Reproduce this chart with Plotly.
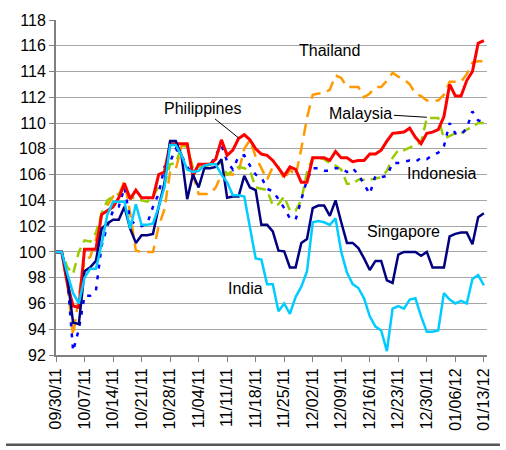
import pandas as pd
import plotly.graph_objs as go

# business days, 09/30/11 .. 01/13/12
dates = [d.strftime('%m/%d/%y') for d in pd.bdate_range('2011-09-30', '2012-01-13')]

philippines = [100, 100, 97.5, 95.8, 95.7, 100.2, 100.2, 100.2, 102.9, 103.2,
               103.5, 104.2, 105.3, 104.1, 104.8, 104.2, 104.2, 104.2, 106.0, 106.2,
               108.4, 108.4, 108.4, 108.4, 105.9, 106.8, 106.8, 106.8, 107.2, 108.7,
               107.5, 107.9, 108.8, 109.1, 108.7, 108.0, 107.6, 107.5, 107.1, 106.5,
               105.9, 106.6, 106.4, 105.4, 105.4, 107.3, 107.3, 107.3, 107.1, 107.8,
               107.3, 107.3, 107.0, 107.1, 107.1, 107.6, 107.6, 107.9, 108.6, 109.2,
               109.25, 109.3, 109.6, 108.9, 108.4, 109.2, 109.3, 109.5, 110.5, 113.0,
               112.1, 112.1, 113.3, 114.0, 116.2, 116.4]
thailand = [100, 100, 97.5, 93.5, 96.5, 99.4, 99.6, 101.0, 102.9, 103.6,
            104.3, 104.4, 105.5, 103.0, 100.1, 100.0, 100.0, 100.0, 102.0, 103.3,
            106.2, 106.4, 108.2, 108.3, 106.0, 104.5, 104.5, 104.5, 105.0, 106.0,
            106.0, 106.0, 106.2, 108.0, 108.7, 107.4, 106.5, 105.6, 106.6, 106.6,
            105.6, 106.4, 105.9, 108.0, 110.4, 112.2, 112.3, 112.3, 112.6, 113.7,
            113.5, 112.8, 112.8, 112.8, 112.0, 112.3, 112.8, 112.8, 113.3, 113.9,
            113.6, 113.4, 113.0, 112.3, 112.1, 111.75, 111.75, 111.75, 112.2, 113.2,
            113.2, 113.2, 113.8, 114.7, 114.8, 114.8]
malaysia = [100, 100, 98.8, 98.3, 100.0, 100.9, 100.8, 101.5, 103.0, 104.0,
            104.3, 104.5, 105.0, 104.3, 104.1, 104.0, 103.9, 104.3, 105.1, 105.2,
            106.8, 106.9, 108.2, 108.2, 106.5, 106.6, 106.6, 106.7, 106.8, 106.9,
            106.0, 106.3, 106.6, 106.5, 106.3, 105.0, 104.9, 104.8, 103.6, 103.7,
            104.3, 103.2, 103.2, 104.0, 106.2, 107.3, 107.3, 107.2, 106.9, 106.7,
            106.4, 105.3, 105.3, 105.6, 105.6, 105.6, 105.7, 105.8, 106.3, 107.3,
            107.9, 107.9, 108.1, 108.3, 108.5, 110.4, 110.4, 110.4, 108.8, 109.0,
            109.2, 109.2, 109.5, 109.7, 110.0, 110.0]
indonesia = [100, 100, 98.0, 92.3, 94.0, 96.6, 96.6, 97.0, 100.5, 102.0,
             103.2, 103.5, 105.0, 102.5, 102.1, 102.0, 102.2, 103.5, 104.5, 106.6,
             107.0, 108.0, 107.5, 106.6, 106.0, 106.5, 106.6, 106.7, 107.5, 108.3,
             107.0, 106.4, 107.4, 107.5, 106.7, 106.0, 105.8, 104.9, 104.7, 104.1,
             103.4, 102.6, 102.5, 104.0, 105.6, 106.5, 106.5, 106.3, 106.3, 106.5,
             106.5, 106.2, 106.5, 106.0, 105.3, 104.5, 105.9, 105.8, 105.9, 106.9,
             106.9, 107.0, 107.1, 107.0, 107.3, 107.2, 107.5, 107.7, 108.2, 110.0,
             109.2, 109.1, 109.6, 110.9, 110.2, 110.1]
singapore = [100, 100, 98.0, 94.5, 94.4, 98.5, 98.8, 99.3, 101.8, 102.2,
             102.5, 102.5, 103.5, 101.8, 100.7, 101.3, 101.3, 101.4, 103.5, 105.3,
             108.6, 108.6, 107.5, 104.1, 106.0, 105.0, 106.5, 106.5, 106.6, 107.2,
             104.2, 104.3, 104.3, 105.9, 105.0, 104.8, 102.1, 102.1, 101.6, 100.1,
             100.05, 98.8, 98.8, 100.7, 101.0, 103.4, 103.6, 103.6, 102.8, 104.0,
             102.3, 100.7, 100.7, 100.3, 99.5, 98.6, 99.3, 99.3, 97.8, 97.6,
             99.8, 100.0, 100.0, 100.0, 99.7, 100.0, 98.8, 98.8, 98.8, 101.2,
             101.4, 101.5, 101.5, 100.6, 102.7, 103.0]
india = [100, 100, 98.3, 96.8, 96.0, 98.0, 98.7, 98.7, 100.6, 102.9,
         103.9, 103.9, 103.9, 101.8, 103.7, 102.1, 102.1, 102.2, 103.5, 105.0,
         108.3, 108.3, 107.5, 106.4, 106.2, 106.3, 106.7, 106.8, 106.8, 106.0,
         105.4, 104.4, 104.4, 104.3, 102.0, 99.5, 99.4, 97.5, 97.5, 95.4,
         96.0, 95.2, 96.5, 97.3, 98.5, 102.3, 102.4, 102.3, 102.1, 102.6,
         100.0, 98.4, 97.5, 97.2, 96.4, 95.0, 94.2, 93.9, 92.3, 95.6,
         95.8, 95.6, 96.3, 96.4, 95.0, 93.8, 93.8, 93.9, 96.8, 96.3,
         96.0, 96.2, 96.0, 97.9, 98.2, 97.4]

fig = go.Figure()

fig.add_trace(go.Scatter(x=dates, y=thailand, mode='lines', name='Thailand',
                         line=dict(color='#FF9900', width=2.5, dash='12px,7px')))
fig.add_trace(go.Scatter(x=dates, y=malaysia, mode='lines', name='Malaysia',
                         line=dict(color='#99CC00', width=2.5, dash='10px,6px')))
fig.add_trace(go.Scatter(x=dates, y=indonesia, mode='lines', name='Indonesia',
                         line=dict(color='#0000FF', width=2.5, dash='4px,7px')))
fig.add_trace(go.Scatter(x=dates, y=philippines, mode='lines', name='Philippines',
                         line=dict(color='#FF0000', width=3)))
fig.add_trace(go.Scatter(x=dates, y=singapore, mode='lines', name='Singapore',
                         line=dict(color='#000080', width=2.5)))
fig.add_trace(go.Scatter(x=dates, y=india, mode='lines', name='India',
                         line=dict(color='#00CCFF', width=2.5)))

# series labels
fig.add_annotation(x=dates[32], y=108.85, text='Philippines', showarrow=True,
                   arrowhead=0, arrowwidth=1, arrowcolor='black', ax=-36, ay=-29)
fig.add_annotation(x=dates[65], y=110.45, text='Malaysia', showarrow=True,
                   arrowhead=0, arrowwidth=1, arrowcolor='black', ax=-66, ay=-4)
for name, i, v in [('Thailand', 47.9, 115.6), ('Indonesia', 67.5, 106.1),
                   ('Singapore', 61.0, 101.6), ('India', 33.3, 97.2)]:
    fig.add_annotation(x=i, y=v, text=name, showarrow=False)

# rule under the chart
fig.add_shape(type='line', xref='paper', yref='paper', x0=-0.116, x1=1.03,
              y0=-0.268, y1=-0.268, line=dict(color='#555555', width=2.5))

fig.update_layout(width=506, height=450, showlegend=False,
                  margin=dict(l=56, r=19, t=15, b=95),
                  paper_bgcolor='white', plot_bgcolor='white',
                  font=dict(family='Liberation Sans, Arial', size=16, color='black'))
fig.update_xaxes(type='category', range=[0, 75.55], tickvals=dates[::5],
                 tickangle=-90, ticks='outside', ticklen=5, tickcolor='#808080',
                 showgrid=False, showline=True, linecolor='#808080', linewidth=2)
fig.update_yaxes(range=[92, 118], dtick=2, ticks='outside', ticklen=5,
                 tickcolor='#808080', showgrid=True, gridcolor='#A6A6A6',
                 showline=True, linecolor='#808080', linewidth=2, zeroline=False)

# page body has an 8px default margin
fig.write_html('out.html', config={'displayModeBar': False},
               post_script="document.body.style.margin='0';")
